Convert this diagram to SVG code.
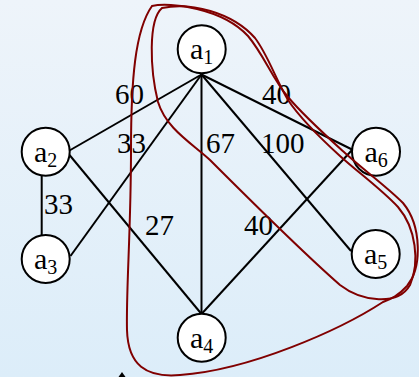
<svg xmlns="http://www.w3.org/2000/svg" width="419" height="377" viewBox="0 0 419 377">
<defs>
<linearGradient id="bg" x1="0" y1="0" x2="0" y2="1">
<stop offset="0" stop-color="#eef4fa"/>
<stop offset="1" stop-color="#dcedf9"/>
</linearGradient>
<style>
.edge{stroke:#000;stroke-width:2;fill:none}
.loop{stroke:#800000;stroke-width:2;fill:none}
.node circle{fill:#fff;stroke:#000;stroke-width:2}
.lbl{font-family:"Liberation Serif","Times New Roman",serif;font-size:29px;fill:#000}
.nt{font-family:"Liberation Serif","Times New Roman",serif;font-size:30px;fill:#000}
.sub{font-size:20px}
</style>
</defs>
<rect width="419" height="377" fill="url(#bg)"/>
<g id="connectors">
<line class="edge" x1="201.5" y1="74.5" x2="69.5" y2="150.5"/>
<line class="edge" x1="201.5" y1="74.5" x2="70.5" y2="256"/>
<line class="edge" x1="201.5" y1="74.5" x2="201.5" y2="314"/>
<line class="edge" x1="201.5" y1="74.5" x2="351" y2="251"/>
<line class="edge" x1="201.5" y1="74.5" x2="352" y2="149.5"/>
<line class="edge" x1="69.5" y1="155" x2="201.5" y2="314"/>
<line class="edge" x1="352" y1="150" x2="201.5" y2="314"/>
<line class="edge" x1="41.7" y1="176" x2="41.7" y2="235"/>
</g>
<g id="labels">
<text class="lbl" x="115" y="104">60</text>
<text class="lbl" x="262" y="104">40</text>
<text class="lbl" x="117" y="153">33</text>
<text class="lbl" x="206" y="153">67</text>
<text class="lbl" x="261" y="153">100</text>
<text class="lbl" x="44" y="214">33</text>
<text class="lbl" x="145" y="235">27</text>
<text class="lbl" x="244" y="235">40</text>
</g>
<g id="n1" class="node"><circle cx="201.7" cy="49.3" r="24"/><text class="nt" x="190" y="59">a<tspan class="sub" dy="5">1</tspan></text></g>
<g id="n2" class="node"><circle cx="45.7" cy="151.7" r="24"/><text class="nt" x="34" y="161.5">a<tspan class="sub" dy="5">2</tspan></text></g>
<g id="n3" class="node"><circle cx="45.7" cy="259" r="24"/><text class="nt" x="34" y="269">a<tspan class="sub" dy="5">3</tspan></text></g>
<g id="n4" class="node"><circle cx="201.7" cy="337.7" r="24"/><text class="nt" x="190" y="347.5">a<tspan class="sub" dy="5">4</tspan></text></g>
<g id="n5" class="node"><circle cx="375.7" cy="254" r="24"/><text class="nt" x="364" y="264">a<tspan class="sub" dy="5">5</tspan></text></g>
<g id="n6" class="node"><circle cx="376" cy="151.7" r="24"/><text class="nt" x="364.5" y="161.5">a<tspan class="sub" dy="5">6</tspan></text></g>
<g id="loops">
<path class="loop" d="M152,6 C170,2 222,8 248,36 C264,55 273,80 288,97 C303,115 323,133 345,153 C365,171 387,187 403,203 C422,226 422,268 407,286 C398,296 391,299 383,302 C340,330 250,370 180,375 C146,378 128,365 127,330 C126,290 131,230 131,150 C131,80 135,30 152,6 Z"/>
<path class="loop" d="M162,8 C148,20 150,70 158,102 C166,128 190,142 210,160 C240,190 300,250 340,285 C362,302 398,306 410,285 C420,262 416,228 398,207 C380,188 360,174 340,156 C318,136 300,118 288,100 C276,80 268,55 255,38 C232,12 190,2 162,8 Z"/>
</g>
<path d="M122,372 L118.5,377 L125.5,377 Z" fill="#000"/>
</svg>
